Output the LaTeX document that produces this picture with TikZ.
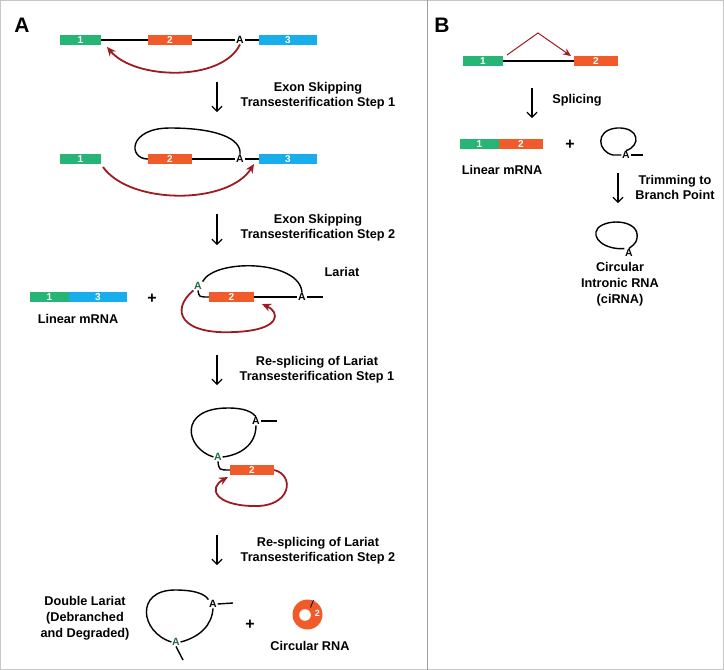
\documentclass[tikz,border=0pt]{standalone}
\usepackage{fontspec}
\setmainfont{Liberation Sans}
\usetikzlibrary{arrows.meta}
\definecolor{exg}{HTML}{27B576}
\definecolor{exo}{HTML}{F15A29}
\definecolor{exb}{HTML}{18ADEB}
\definecolor{dred}{HTML}{9E1B22}
\definecolor{agr}{HTML}{1E6B3F}
\tikzset{
  exon/.style={rectangle, minimum height=10pt, inner sep=0pt, text=white, font=\bfseries\fontsize{10}{10}\selectfont},
  anode/.style={inner sep=0.6pt, font=\bfseries\fontsize{10.5}{10.5}\selectfont},
  ganode/.style={anode, text=agr},
  lbl/.style={inner sep=0pt, align=center, font=\bfseries\fontsize{12.7}{15}\selectfont},
  plus/.style={inner sep=0pt, font=\bfseries\fontsize{16}{16}\selectfont},
  panel/.style={inner sep=0pt, font=\bfseries\fontsize{21}{21}\selectfont},
  rna/.style={line width=1.4pt, black},
  redarr/.style={draw=dred, line width=1.8pt, -{Stealth[length=9pt,width=8pt]}},
  downarr/.style={line width=1.2pt, -{Straight Barb[length=5pt,width=10pt]}}
}
\begin{document}
\begin{tikzpicture}[x=1pt,y=-1pt]
\useasboundingbox (0,0) rectangle (724,670);
\draw[gray!45, line width=1pt] (0.5,0.5) rectangle (723.5,669.5);
\draw[gray!75, line width=1pt] (427,0) -- (427,670);

% ---------------- Panel A ----------------
\node[panel] (pA) at (22,25) {A};

% Row 1
\node[exon,fill=exg,minimum width=41pt] (r1e1) at (80.5,40) {1};
\node[exon,fill=exo,minimum width=44pt] (r1e2) at (170,40) {2};
\node[anode] (r1A) at (240,40) {A};
\node[exon,fill=exb,minimum width=58pt] (r1e3) at (288,40) {3};
\draw[rna] (r1e1.east) -- (r1e2.west) (r1e2.east) -- (r1A.west) (r1A.east) -- (r1e3.west);
\coordinate (r1t) at (107,47);
\draw[redarr] (r1A.south) .. controls (222,82) and (135,80) .. (r1t);

\coordinate (d1a) at (217,82); \coordinate (d1b) at (217,112);
\draw[downarr] (d1a) -- (d1b);
\node[lbl] (t1) at (318,95.5) {Exon Skipping\\Transesterification Step 1};

% Row 2
\node[exon,fill=exg,minimum width=41pt] (r2e1) at (80.5,159) {1};
\node[exon,fill=exo,minimum width=44pt] (r2e2) at (170,159) {2};
\node[anode] (r2A) at (240,159) {A};
\node[exon,fill=exb,minimum width=58pt] (r2e3) at (288,159) {3};
\draw[rna] (r2e2.east) -- (r2A.west) (r2A.east) -- (r2e3.west);
\draw[rna] (r2e2.west) .. controls (128,159) and (128,128) .. (170,128) .. controls (215,128) and (242,138) .. (r2A.north);
\coordinate (r2s) at (103,167); \coordinate (r2t) at (254,164);
\draw[redarr] (r2s) .. controls (130,205) and (228,205) .. (r2t);

\coordinate (d2a) at (217,214); \coordinate (d2b) at (217,245);
\draw[downarr] (d2a) -- (d2b);
\node[lbl] (t2) at (318,227.5) {Exon Skipping\\Transesterification Step 2};

% Row 3
\node[exon,fill=exg,minimum width=39pt] (lm1) at (49.5,297) {1};
\node[exon,fill=exb,minimum width=58pt] (lm3) at (98,297) {3};
\node[lbl] (lmt) at (78,319) {Linear mRNA};
\node[plus] (p1) at (152,299) {+};
\node[ganode] (gA3) at (198,286) {A};
\node[exon,fill=exo,minimum width=45pt] (r3e2) at (231.5,297) {2};
\node[anode] (bA3) at (302,297) {A};
\coordinate (r3end) at (323,297);
\draw[rna] (r3e2.east) -- (bA3.west) (bA3.east) -- (r3end);
\draw[rna] (gA3.north east) .. controls (215,258) and (300,260) .. (bA3.north);
\draw[rna] (gA3.south) .. controls (199,297) .. (r3e2.west);
\coordinate (r3t) at (262,304);
\draw[redarr] (gA3.south west) .. controls (170,310) and (180,335) .. (235,332) .. controls (282,330) and (280,312) .. (r3t);
\node[lbl] (lar) at (342,272) {Lariat};

\coordinate (d3a) at (217,355); \coordinate (d3b) at (217,385);
\draw[downarr] (d3a) -- (d3b);
\node[lbl] (t3) at (317,370) {Re-splicing of Lariat\\Transesterification Step 1};

% Row 4
\node[ganode] (gA4) at (218,457) {A};
\node[anode] (bA4) at (256,421) {A};
\node[exon,fill=exo,minimum width=44pt] (r4e2) at (252,470) {2};
\coordinate (r4end) at (277,421);
\draw[rna] (bA4.east) -- (r4end);
\draw[rna] (gA4.west) .. controls (185,448) and (178,408) .. (228,408) .. controls (245,408) and (252,412) .. (bA4.north);
\draw[rna] (bA4.south) .. controls (256,445) and (240,455) .. (gA4.east);
\draw[rna] (gA4.south) .. controls (219,470) .. (r4e2.west);
\coordinate (r4t) at (228,477);
\draw[redarr] (r4e2.east) .. controls (295,475) and (292,508) .. (252,506) .. controls (215,505) and (208,488) .. (r4t);

\coordinate (d4a) at (217,535); \coordinate (d4b) at (217,565);
\draw[downarr] (d4a) -- (d4b);
\node[lbl] (t4) at (318,551) {Re-splicing of Lariat\\Transesterification Step 2};

% Row 5
\node[lbl, font=\bfseries\fontsize{12.7}{16}\selectfont] (dl) at (85,618) {Double Lariat\\(Debranched\\and Degraded)};
\node[anode] (bA5) at (213,604) {A};
\node[ganode] (gA5) at (176,642) {A};
\coordinate (r5end) at (233,603);
\coordinate (r5tail) at (183,660);
\draw[rna] (gA5.west) .. controls (140,632) and (135,590) .. (175,590) .. controls (195,590) and (205,594) .. (bA5.north west);
\draw[rna] (bA5.south) .. controls (212,625) and (200,637) .. (gA5.east);
\draw[rna] (bA5.east) -- (r5end);
\draw[rna] (gA5.south) -- (r5tail);
\node[plus] (p2) at (250,625) {+};
\node[circle, fill=exo, minimum size=30pt, inner sep=0pt] (circ) at (307.5,614.5) {};
\fill[white] (305,615) circle (5.8);
\draw[black, line width=0.8pt] (310.5,607.5) -- (313.5,600);
\node[text=white, inner sep=0pt, font=\bfseries\fontsize{9}{9}\selectfont] (c2) at (317.5,613.5) {2};
\node[lbl] (crt) at (310,646) {Circular RNA};

% ---------------- Panel B ----------------
\node[panel] (pB) at (442,25) {B};
\node[exon,fill=exg,minimum width=40pt] (Be1) at (483,61) {1};
\node[exon,fill=exo,minimum width=44pt] (Be2) at (596,61) {2};
\draw[rna] (Be1.east) -- (Be2.west);
\coordinate (Bs) at (507,55); \coordinate (Bp) at (538,33); \coordinate (Bt) at (571,56);
\draw[redarr, line width=1pt, -{Stealth[length=8pt,width=7pt]}] (Bs) -- (Bp) -- (Bt);

\coordinate (d5a) at (532,88); \coordinate (d5b) at (532,118);
\draw[downarr] (d5a) -- (d5b);
\node[lbl] (spl) at (577,100) {Splicing};

\node[exon,fill=exg,minimum width=39pt] (Blm1) at (479.5,144) {1};
\node[exon,fill=exo,minimum width=44pt] (Blm2) at (521,144) {2};
\node[lbl] (Blmt) at (502,170) {Linear mRNA};
\node[plus] (p3) at (570,145) {+};
\node[anode] (BA1) at (626,155) {A};
\coordinate (BA1l) at (613,155); \coordinate (BA1r) at (643,155);
\draw[rna] (BA1.west) -- (BA1l) .. controls (598,152) and (594,130) .. (617,128) .. controls (640,127) and (641,146) .. (BA1.north);
\draw[rna] (BA1.east) -- (BA1r);

\coordinate (d6a) at (618,173); \coordinate (d6b) at (618,203);
\draw[downarr] (d6a) -- (d6b);
\node[lbl] (trim) at (675,187.5) {Trimming to\\Branch Point};

\node[anode] (BA2) at (629,253) {A};
\draw[rna] (BA2.north west) .. controls (605,250) and (590,238) .. (598,228) .. controls (608,218) and (640,220) .. (637,238) .. controls (636,245) and (631,246) .. (BA2.north);
\node[lbl, font=\bfseries\fontsize{12.7}{16}\selectfont] (cir) at (620,284) {Circular\\Intronic RNA\\(ciRNA)};
\end{tikzpicture}
\end{document}
